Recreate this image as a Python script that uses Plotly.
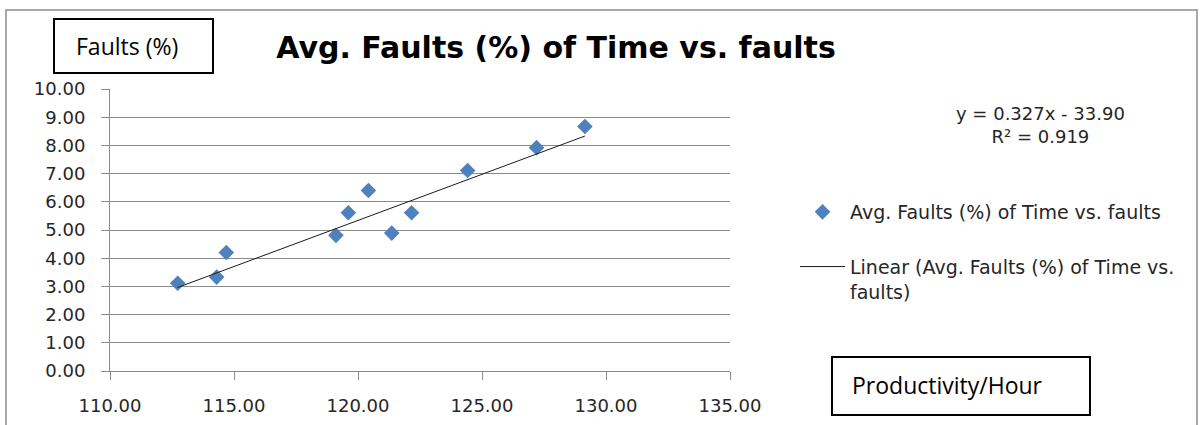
import numpy as np
import plotly.graph_objects as go

# ---- data ----
productivity = [112.73, 114.30, 114.69, 119.11, 119.61, 120.42, 121.36, 122.16, 124.42, 127.20, 129.15]
faults_pct = [3.11, 3.33, 4.20, 4.81, 5.61, 6.40, 4.89, 5.61, 7.11, 7.92, 8.67]
trend_slope = 0.327
trend_intercept = -33.90
r_squared = 0.919
series_name = "Avg. Faults (%) of Time vs. faults"
trend_name = "Linear (Avg. Faults (%) of Time vs.<br>faults)"
title_text = "Avg. Faults (%) of Time vs. faults"
y_title = "Faults (%)"
x_title = "Productivity/Hour"
x_ticks = [110, 115, 120, 125, 130, 135]
y_ticks = [0, 1, 2, 3, 4, 5, 6, 7, 8, 9, 10]

# trend line over the data range, from the stated equation
trend_x = np.array([min(productivity), max(productivity)])
trend_y = trend_slope * trend_x + trend_intercept

W, H = 1202, 425
PL, PR, PT, PB = 110, 730, 89, 371


def fx(p):
    return (p - PL) / (PR - PL)


def fy(p):
    return (PB - p) / (PB - PT)


fig = go.Figure()
fig.add_trace(go.Scatter(
    x=productivity, y=faults_pct, mode="markers", name=series_name,
    marker=dict(symbol="diamond", size=12, color="#4F81BD"),
    legendgroup="a"))
fig.add_trace(go.Scatter(
    x=trend_x, y=trend_y, mode="lines", name=trend_name,
    line=dict(color="#1a1a1a", width=1), legendgroup="b"))

tick_font = dict(family="DejaVu Sans", size=18, color="#262626")
grid_c = "#8a8a8a"

fig.update_layout(
    width=W, height=H,
    margin=dict(l=PL, r=W - PR, t=PT, b=H - PB, autoexpand=False),
    paper_bgcolor="white", plot_bgcolor="white",
    title=dict(text="<b>" + title_text + "</b>", x=556 / W, xref="container",
               xanchor="center", y=1 - 47 / H, yref="container", yanchor="middle",
               font=dict(family="DejaVu Sans", size=30, color="#000")),
    xaxis=dict(range=[110, 135], tickvals=x_ticks, tickformat=".2f",
               showgrid=False, zeroline=False, showline=True, linecolor=grid_c,
               linewidth=1, ticks="outside", ticklen=8, tickcolor=grid_c,
               tickfont=tick_font, ticklabelstandoff=10, fixedrange=True),
    yaxis=dict(range=[0, 10], tickvals=y_ticks, tickformat=".2f",
               showgrid=True, gridcolor=grid_c, gridwidth=1, zeroline=False,
               showline=True, linecolor=grid_c, linewidth=1, ticks="outside",
               ticklen=8, tickcolor=grid_c, tickfont=tick_font,
               ticklabelstandoff=12, fixedrange=True),
    legend=dict(xref="container", yref="container", x=795 / W, y=1 - 193 / H,
                xanchor="left", yanchor="top", bgcolor="rgba(0,0,0,0)",
                font=dict(family="DejaVu Sans", size=19, color="#262626"),
                traceorder="grouped", tracegroupgap=27, valign="top",
                itemwidth=45),
    showlegend=True,
)

# outer chart frame
fig.add_shape(type="rect", xref="paper", yref="paper",
              x0=fx(6), x1=fx(1197), y0=fy(440), y1=fy(10),
              line=dict(color="#8c8c8c", width=1.5), fillcolor="rgba(0,0,0,0)", layer="below")
# axis title boxes
fig.add_shape(type="rect", xref="paper", yref="paper",
              x0=fx(54), x1=fx(213), y0=fy(73), y1=fy(19),
              line=dict(color="#000", width=2))
fig.add_shape(type="rect", xref="paper", yref="paper",
              x0=fx(832), x1=fx(1090), y0=fy(415), y1=fy(357),
              line=dict(color="#000", width=2))

box_font = dict(family="Open Sans", size=23, color="#000")
fig.add_annotation(text=y_title, xref="paper", yref="paper", x=fx(74), y=fy(46),
                   xanchor="left", yanchor="middle", showarrow=False, font=box_font)
fig.add_annotation(text=x_title, xref="paper", yref="paper", x=fx(850), y=fy(385),
                   xanchor="left", yanchor="middle", showarrow=False, font=box_font)

# trendline equation
eq_text = "y = {:.3f}x - {:.2f}<br>R² = {:.3f}".format(trend_slope, -trend_intercept, r_squared)
fig.add_annotation(text=eq_text, xref="paper", yref="paper", x=fx(1040), y=fy(125),
                   xanchor="center", yanchor="middle", align="center", showarrow=False,
                   font=dict(family="DejaVu Sans", size=18, color="#262626"))

fig.write_html("out.html", config={"displayModeBar": False},
               post_script="document.body.style.margin='0';")
